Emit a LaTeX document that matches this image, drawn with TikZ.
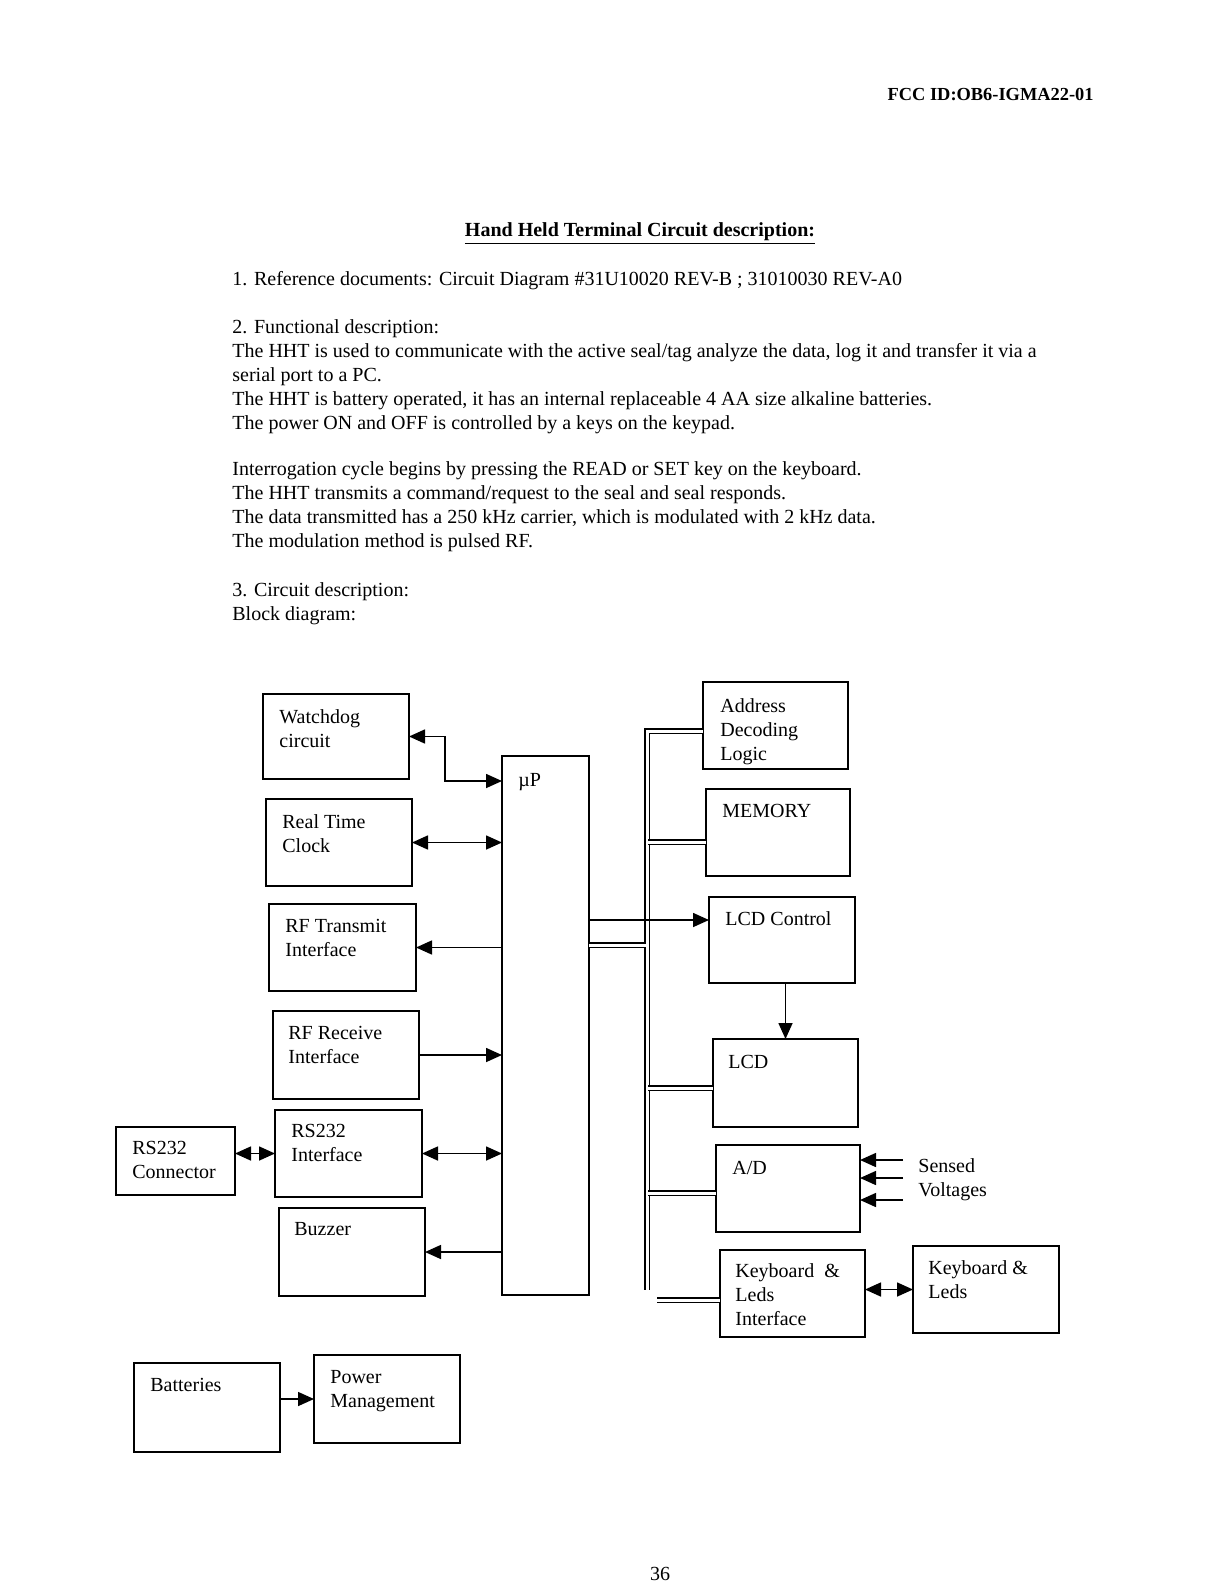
\documentclass[tikz,border=0pt]{standalone}
\usepackage{fontspec}
\setmainfont{Liberation Serif}
\usetikzlibrary{positioning}
\usetikzlibrary{arrows.meta}

\begin{document}
\begin{tikzpicture}[x=0.5pt, y=-0.5pt,
  blk/.style={draw, line width=0.9pt, inner sep=0pt, outer sep=0pt},
  lbl/.style={anchor=north west, inner sep=0pt, align=left, font=\fontsize{10}{12}\selectfont},
  txt/.style={anchor=base west, inner sep=0pt, font=\fontsize{10}{12}\selectfont},
  con/.style={line width=0.8pt},
  bus/.style={double, double distance=1.5pt, line width=0.95pt},
  >={Triangle[length=8pt,width=7pt]}]
\fill[white] (0,0) rectangle (1224,1584);
\useasboundingbox (0,0) rectangle (1224,1584);

%page text
\node[anchor=base east, inner sep=0pt, font=\bfseries\fontsize{9.2}{11}\selectfont] (fccid) at (1094,101) {FCC ID:OB6-IGMA22-01};
\node[anchor=base, inner sep=0pt, font=\bfseries\fontsize{10}{12}\selectfont] (title) at (640,236) {\underline{Hand Held Terminal Circuit description:}};
\node[txt] (ref) at (232,285) {1. Reference documents: Circuit Diagram \#31U10020 REV-B ; 31010030 REV-A0};
\node[txt] (func) at (232,333) {2. Functional description:};
\node[txt] (funca) at (232,357) {The HHT is used to communicate with the active seal/tag analyze the data, log it and transfer it via a};
\node[txt] (funcb) at (232,381) {serial port to a PC.};
\node[txt] (funcc) at (232,405) {The HHT is battery operated, it has an internal replaceable 4 AA size alkaline batteries.};
\node[txt] (funcd) at (232,429) {The power ON and OFF is controlled by a keys on the keypad.};
\node[txt] (cyca) at (232,475) {Interrogation cycle begins by pressing the READ or SET key on the keyboard.};
\node[txt] (cycb) at (232,499) {The HHT transmits a command/request to the seal and seal responds.};
\node[txt] (cycc) at (232,523) {The data transmitted has a 250 kHz carrier, which is modulated with 2 kHz data.};
\node[txt] (cycd) at (232,547) {The modulation method is pulsed RF.};
\node[txt] (circ) at (232,596) {3. Circuit description:};
\node[txt] (blkd) at (232,620) {Block diagram:};
\node[anchor=base, inner sep=0pt, font=\fontsize{10}{12}\selectfont] (pgnum) at (660,1580) {36};

%left blocks
\node[blk, minimum width=73pt, minimum height=42.5pt] (wdg) at (336,736.5) {};
\node[blk, minimum width=73pt, minimum height=43.5pt] (rtc) at (339,842.5) {};
\node[blk, minimum width=73.5pt, minimum height=43.5pt] (rft) at (342.5,947.5) {};
\node[blk, minimum width=73pt, minimum height=44pt] (rfr) at (346,1055) {};
\node[blk, minimum width=73.5pt, minimum height=43.5pt] (rsi) at (348.5,1153.5) {};
\node[blk, minimum width=73pt, minimum height=44pt] (buz) at (352,1252) {};
\node[blk, minimum width=59.5pt, minimum height=34pt] (rsc) at (175.5,1161) {};
\node[blk, minimum width=73pt, minimum height=44.5pt] (bat) at (207,1407.5) {};
\node[blk, minimum width=73pt, minimum height=44pt] (pwr) at (387,1399) {};
%processor
\node[blk, minimum width=43.5pt, minimum height=269.5pt] (mcu) at (545.5,1025.5) {};
%right blocks
\node[blk, minimum width=72.5pt, minimum height=43.5pt] (adl) at (775.5,725.5) {};
\node[blk, minimum width=72pt, minimum height=43.5pt] (mem) at (778,832.5) {};
\node[blk, minimum width=73pt, minimum height=43pt] (lcdc) at (782,940) {};
\node[blk, minimum width=72.5pt, minimum height=44pt] (lcd) at (785.5,1083) {};
\node[blk, minimum width=72pt, minimum height=43.5pt] (ad) at (788,1188.5) {};
\node[blk, minimum width=72.5pt, minimum height=43.5pt] (kbi) at (792.5,1293.5) {};
\node[blk, minimum width=73pt, minimum height=43.5pt] (kbd) at (986,1289.5) {};

%labels
\node[lbl] (wdgtxt) at ([shift={(16,15)}]wdg.north west) {Watchdog\\circuit};
\node[lbl] (rtctxt) at ([shift={(16,15)}]rtc.north west) {Real Time\\Clock};
\node[lbl] (rfttxt) at ([shift={(16,15)}]rft.north west) {RF Transmit\\Interface};
\node[lbl] (rfrtxt) at ([shift={(15,15)}]rfr.north west) {RF Receive\\Interface};
\node[lbl] (rsitxt) at ([shift={(16,14)}]rsi.north west) {RS232\\Interface};
\node[lbl] (buztxt) at ([shift={(15,14)}]buz.north west) {Buzzer};
\node[lbl] (rsctxt) at ([shift={(16,14)}]rsc.north west) {RS232\\Connector};
\node[lbl] (battxt) at ([shift={(16,15)}]bat.north west) {Batteries};
\node[lbl] (pwrtxt) at ([shift={(16,15)}]pwr.north west) {Power\\Management};
\node[lbl] (mcutxt) at ([shift={(16,17)}]mcu.north west) {µP};
\node[lbl] (adltxt) at ([shift={(17,16)}]adl.north west) {Address\\Decoding\\Logic};
\node[lbl] (memtxt) at ([shift={(16,15)}]mem.north west) {MEMORY};
\node[lbl] (lcdctxt) at ([shift={(16,14)}]lcdc.north west) {LCD Control};
\node[lbl] (lcdtxt) at ([shift={(15,16)}]lcd.north west) {LCD};
\node[lbl] (adtxt) at ([shift={(16,16)}]ad.north west) {A/D};
\node[lbl] (kbitxt) at ([shift={(15,13)}]kbi.north west) {Keyboard\enspace\&\\Leds\\Interface};
\node[lbl] (kbdtxt) at ([shift={(15,14)}]kbd.north west) {Keyboard \&\\Leds};
\node[lbl] (svtxt) at (918,1158) {Sensed\\Voltages};

%left connectors
\coordinate (wdgbend) at (445,781);
\draw[con, <->] (wdg.east) -| (wdgbend) -- (wdgbend -| mcu.west);
\draw[con, <->] (rtc.east) -- (rtc.east -| mcu.west);
\draw[con, ->] (rft.east -| mcu.west) -- (rft.east);
\draw[con, ->] (rfr.east) -- (rfr.east -| mcu.west);
\draw[con, <->] (rsi.east) -- (rsi.east -| mcu.west);
\draw[con, <->] (rsc.east |- rsi.west) -- (rsi.west);
\draw[con, ->] (buz.east -| mcu.west) -- (buz.east);
\draw[con, ->] (bat.east |- pwr.west) -- (pwr.west);

%bus
\coordinate (bustop) at (647,731);
\coordinate (busend) at (647,1290);
\coordinate (tapmcu) at (646,945);
\coordinate (tapmem) at (648,842);
\coordinate (taplcd) at (648,1088);
\coordinate (tapad) at (648,1193);
\coordinate (tapkbi) at (657,1300);
\draw[bus] (adl.west |- bustop) -- (bustop) -- (busend);
\draw[bus] (tapmcu -| mcu.east) -- (tapmcu);
\draw[bus] (tapmem) -- (tapmem -| mem.west);
\draw[bus] (taplcd) -- (taplcd -| lcd.west);
\draw[bus] (tapad) -- (tapad -| ad.west);
\draw[bus] (tapkbi) -- (tapkbi -| kbi.west);

%right connectors
\coordinate (lcdcin) at (600,920);
\draw[con, ->] (lcdcin -| mcu.east) -- (lcdcin -| lcdc.west);
\draw[con, ->] (lcdc.south -| lcd.north) -- (lcd.north);
\draw[con, <->] (kbi.east |- kbd.west) -- (kbd.west);
\coordinate (sva) at (903,1160);
\coordinate (svb) at (903,1178);
\coordinate (svc) at (903,1200);
\draw[con, ->] (sva) -- (sva -| ad.east);
\draw[con, ->] (svb) -- (svb -| ad.east);
\draw[con, ->] (svc) -- (svc -| ad.east);

\end{tikzpicture}
\end{document}
